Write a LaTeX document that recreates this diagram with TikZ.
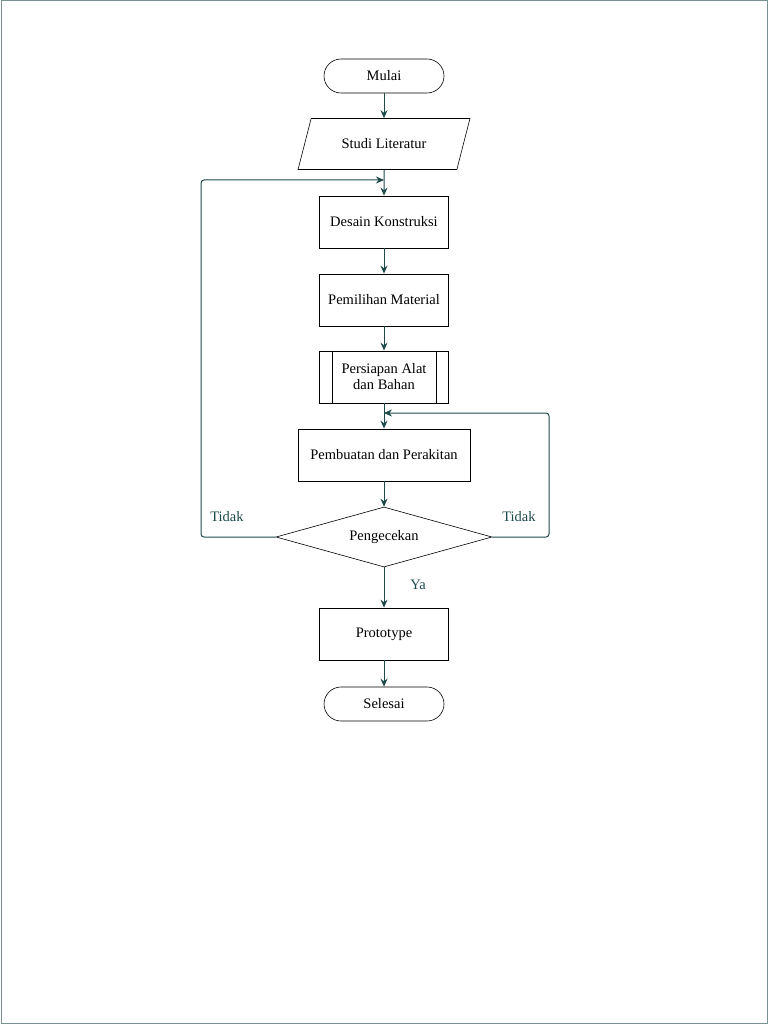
\documentclass[tikz,border=0pt]{standalone}
\usepackage{fontspec}
\setmainfont{Liberation Serif}
\usetikzlibrary{shapes.geometric,arrows.meta}
\definecolor{ln}{HTML}{1E4A4A}
\begin{document}
\begin{tikzpicture}[x=1pt,y=-1pt,
  box/.style={draw,line width=0.8pt,minimum width=129pt,minimum height=52pt,align=center,font=\fontsize{14.5}{16}\selectfont},
  term/.style={draw,line width=0.6pt,rounded corners=17pt,minimum width=120pt,minimum height=34pt,font=\fontsize{14.5}{16}\selectfont},
  arr/.style={draw=ln,line width=1pt,-{Stealth[length=8pt,width=7pt]}},
  lbl/.style={text=ln,font=\fontsize{14.5}{16}\selectfont}]
\useasboundingbox (0,0) rectangle (768,1024);
\draw[draw=ln!60,line width=1pt] (1,1) rectangle (767,1023);
\node[term] (m) at (384,76) {Mulai};
\node[draw,line width=0.6pt,trapezium,trapezium left angle=64,trapezium right angle=116,minimum width=172pt,minimum height=51pt,trapezium stretches=true,font=\fontsize{14.5}{16}\selectfont] (s) at (384,144) {Studi Literatur};
\node[box] (d) at (384,222) {Desain Konstruksi};
\node[box] (p) at (384,300) {Pemilihan Material};
\node[box] (a) at (384,377) {Persiapan Alat\\dan Bahan};
\draw[line width=0.8pt] ([xshift=13pt]a.north west) -- ([xshift=13pt]a.south west);
\draw[line width=0.8pt] ([xshift=-13pt]a.north east) -- ([xshift=-13pt]a.south east);
\node[box,minimum width=172pt] (b) at (384,455) {Pembuatan dan Perakitan};
\node[draw,line width=0.6pt,diamond,aspect=3.6,minimum width=216pt,minimum height=60pt,inner sep=0pt,font=\fontsize{14.5}{16}\selectfont] (k) at (384,537) {Pengecekan};
\node[box] (pr) at (384,634) {Prototype};
\node[term] (e) at (384,704) {Selesai};
\coordinate (t1) at (384,180);
\coordinate (t2) at (384,413);
\draw[arr] (m) -- (s);
\draw[arr] (s) -- (d);
\draw[arr] (d) -- (p);
\draw[arr] (p) -- (a);
\draw[arr] (a) -- (b);
\draw[arr] (b) -- (k);
\draw[arr] (k) -- (pr);
\draw[arr] (pr) -- (e);
\draw[arr,rounded corners=3pt] (k.west) -- (201,537) -- (201,180) -- (t1);
\draw[arr,rounded corners=3pt] (k.east) -- (549,537) -- (549,413) -- (t2);
\node[lbl] at (227,517) {Tidak};
\node[lbl] at (519,517) {Tidak};
\node[lbl] at (418,585) {Ya};
\end{tikzpicture}
\end{document}
